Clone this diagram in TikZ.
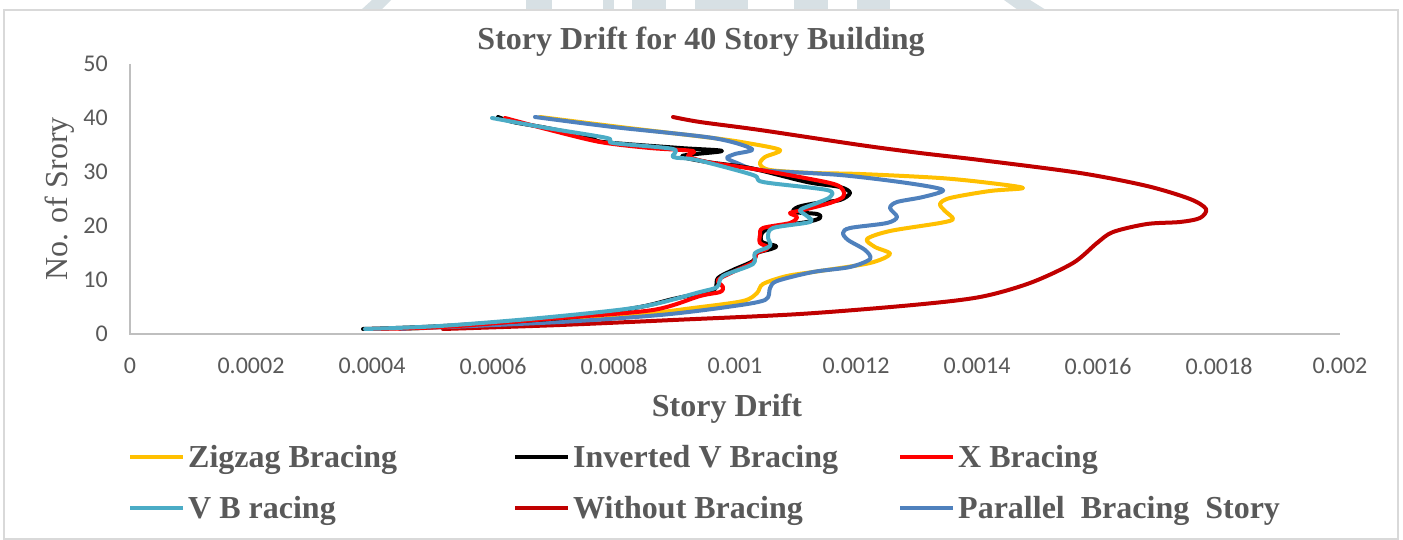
\documentclass[tikz,border=0pt]{standalone}
\usepackage{fontspec}
\setmainfont{Liberation Serif}
\newfontfamily\tickfont{Carlito}
\definecolor{zigc}{HTML}{FFC000}
\definecolor{xbc}{HTML}{FF0000}
\definecolor{vbc}{HTML}{4BACC6}
\definecolor{woc}{HTML}{C00000}
\definecolor{parc}{HTML}{4F81BD}
\definecolor{txtc}{HTML}{595959}
\definecolor{axc}{HTML}{BFBFBF}
\definecolor{bordc}{HTML}{D9D9D9}
\definecolor{wmc}{HTML}{D7E0E4}
\tikzset{
  curve/.style={line width=4pt, line cap=round, line join=round},
  legline/.style={line width=4.5pt},
  ttl/.style={font=\fontsize{32}{36}\selectfont\bfseries, text=txtc, inner sep=0pt},
  legtxt/.style={font=\fontsize{32}{36}\selectfont\bfseries, text=txtc, inner sep=0pt, anchor=west},
  ytick/.style={font=\tickfont\fontsize{24}{28}\selectfont, text=txtc, inner sep=0pt, anchor=east},
  xtick/.style={font=\tickfont\fontsize{24}{28}\selectfont, text=txtc, inner sep=0pt},
  axline/.style={draw=axc, line width=1.5pt}
}
\begin{document}
\begin{tikzpicture}[x=1pt,y=-1pt]
\useasboundingbox (0,0) rectangle (1403,540);
\fill[white] (0,0) rectangle (1403,540);
% watermark remnants above the chart frame
\fill[wmc] (372,0) -- (391,0) -- (381,10) -- (361,10) -- cycle;
\fill[wmc] (526,0) rectangle (552,10);
\fill[wmc] (603,0) rectangle (614,10);
\fill[wmc] (632,0) rectangle (666,10);
\fill[wmc] (695,0) rectangle (748,10);
\fill[wmc] (794,0) rectangle (828,10);
\fill[wmc] (857,0) rectangle (890,10);
\fill[wmc] (1004,0) -- (1030,0) -- (1046,10) -- (1018,10) -- cycle;
% chart frame
\draw[draw=bordc, line width=1.5pt, fill=white] (4,10) rectangle (1398,539);
% title
\node[ttl] (title) at (701,42) {Story Drift for 40 Story Building};
% axes
\coordinate (o) at (130,334);
\coordinate (xend) at (1340,334);
\coordinate (yend) at (130,64);
\draw[axline] (yend) -- (o) -- (xend);
% y ticks
\node[ytick] (y0) at (108,334) {0};
\node[ytick] (y10) at (108,280) {10};
\node[ytick] (y20) at (108,226) {20};
\node[ytick] (y30) at (108,172) {30};
\node[ytick] (y40) at (108,118) {40};
\node[ytick] (y50) at (108,64) {50};
% x ticks
\node[xtick] (x0) at (130,366) {0};
\node[xtick] (x1) at (251,366) {0.0002};
\node[xtick] (x2) at (372,366) {0.0004};
\node[xtick] (x3) at (493,366) {0.0006};
\node[xtick] (x4) at (614,366) {0.0008};
\node[xtick] (x5) at (735,366) {0.001};
\node[xtick] (x6) at (856,366) {0.0012};
\node[xtick] (x7) at (977,366) {0.0014};
\node[xtick] (x8) at (1098,366) {0.0016};
\node[xtick] (x9) at (1219,366) {0.0018};
\node[xtick] (x10) at (1340,366) {0.002};
% axis titles
\node[font=\fontsize{32}{36}\selectfont, text=txtc, inner sep=0pt, rotate=90] (ytitle) at (60,199) {No. of Srory};
\node[ttl] (xtitle) at (727,409) {Story Drift};
% curves
% Without Bracing
\draw[curve, woc] plot[smooth, tension=0.5] coordinates {
 (443,329) (560,325) (673,320) (800,314) (913,305) (980,297) (1030,283) (1073,263) (1097,243) (1113,232) (1147,224) (1180,222) (1200,218) (1206,209) (1190,199) (1147,186) (1080,173) (980,160) (920,153) (860,145) (760,130) (700,122) (673,117)};
% Zigzag
\draw[curve, zigc] plot[smooth, tension=0.5] coordinates {
 (400,329) (500,324) (610,318) (693,308) (743,301) (757,293) (763,284) (787,276) (820,271) (870,263) (890,254) (875,247) (867,239) (890,231) (940,223) (953,219) (945,211) (940,204) (950,198) (990,191) (1023,188) (990,183) (940,178) (860,174) (813,173) (770,170) (760,164) (765,157) (780,150) (747,143) (713,138) (620,127) (540,117)};
% Parallel
\draw[curve, parc] plot[smooth, tension=0.5] coordinates {
 (400,329) (560,322) (660,315) (727,307) (765,300) (770,288) (777,281) (813,272) (850,267) (870,259) (865,250) (848,240) (843,233) (850,228) (887,223) (897,217) (890,208) (897,202) (923,197) (943,190) (907,183) (840,175) (760,170) (737,163) (727,158) (735,154) (752,149) (713,138) (613,127) (535,117)};
% Inverted V
\draw[curve, black] plot[smooth, tension=0.5] coordinates {
 (363,329) (443,326) (573,317) (640,307) (673,299) (710,291) (716,287) (718,278) (733,270) (753,261) (757,253) (771,249) (776,246) (762,242) (762,233) (773,227) (807,222) (820,218) (817,214) (794,212) (798,207) (817,203) (840,200) (850,193) (840,187) (807,182) (750,168) (707,162) (682,156) (722,151) (680,148) (603,142) (590,137) (547,128) (513,122) (498,117)};
% X Bracing
\draw[curve, xbc] plot[smooth, tension=0.5] coordinates {
 (372,329) (443,327) (560,318) (653,310) (700,296) (720,292) (723,287) (718,280) (735,271) (753,262) (757,253) (765,250) (768,247) (760,243) (760,235) (763,228) (790,223) (797,217) (790,213) (803,210) (830,203) (843,197) (843,190) (830,183) (760,170) (707,162) (688,156) (693,151) (650,148) (600,142) (550,130) (505,118)};
% V Bracing
\draw[curve, vbc] plot[smooth, tension=0.5] coordinates {
 (365,329) (440,326) (540,318) (640,307) (700,292) (717,287) (723,276) (753,264) (755,253) (770,246) (768,237) (773,228) (810,222) (807,216) (800,210) (817,203) (830,197) (827,190) (763,182) (753,175) (697,160) (673,157) (673,149) (613,143) (607,138) (547,128) (492,118)};
% legend
\coordinate (l1a) at (130,457); \coordinate (l1b) at (183,457);
\coordinate (l2a) at (515,457); \coordinate (l2b) at (568,457);
\coordinate (l3a) at (900,457); \coordinate (l3b) at (953,457);
\coordinate (l4a) at (130,508); \coordinate (l4b) at (183,508);
\coordinate (l5a) at (515,508); \coordinate (l5b) at (568,508);
\coordinate (l6a) at (900,508); \coordinate (l6b) at (953,508);
\draw[legline, zigc] (l1a) -- (l1b);
\draw[legline, black] (l2a) -- (l2b);
\draw[legline, xbc] (l3a) -- (l3b);
\draw[legline, vbc] (l4a) -- (l4b);
\draw[legline, woc] (l5a) -- (l5b);
\draw[legline, parc] (l6a) -- (l6b);
\node[legtxt] (t1) at (188,460) {Zigzag Bracing};
\node[legtxt] (t2) at (573,460) {Inverted V Bracing};
\node[legtxt] (t3) at (958,460) {X Bracing};
\node[legtxt] (t4) at (188,511) {V B racing};
\node[legtxt] (t5) at (573,511) {Without Bracing};
\node[legtxt] (t6) at (958,511) {Parallel\ \ Bracing\ \ Story};
\end{tikzpicture}
\end{document}
